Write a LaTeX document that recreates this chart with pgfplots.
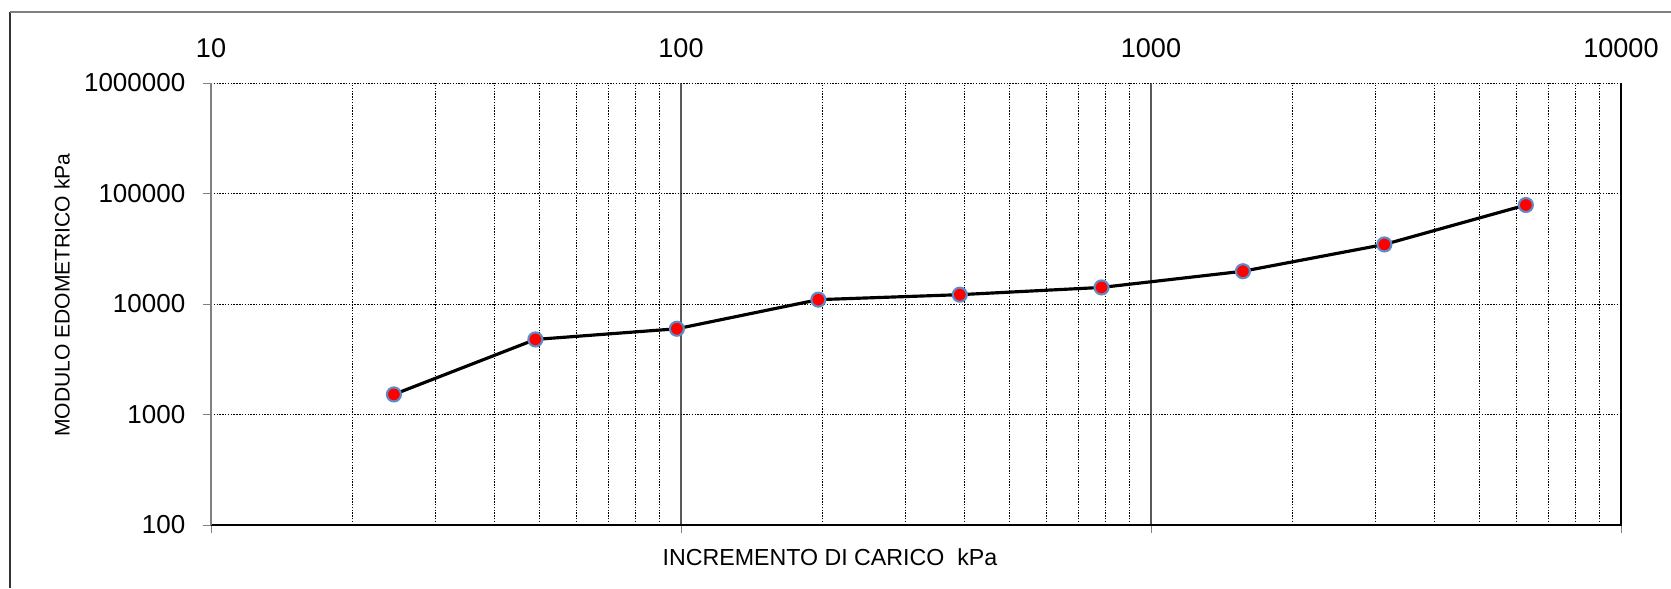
\documentclass[border=0pt]{standalone}
\usepackage{fontspec}
\setmainfont{Liberation Sans}
\usepackage{pgfplots}
\pgfplotsset{compat=1.18}
\definecolor{mkedge}{RGB}{95,140,200}
\begin{document}
\begin{tikzpicture}
\useasboundingbox (0mm,0mm) rectangle (167.1mm,58.8mm);
% outer chart frame
\draw[black!80, line width=0.15mm] (1.0mm,0mm) -- (1.0mm,57.6mm);
\draw[gray, line width=0.2mm] (1.0mm,57.6mm) -- (167.1mm,57.6mm);
\begin{axis}[
  at={(21.1mm,6.3mm)}, anchor=south west,
  width=141.0mm, height=44.2mm, scale only axis,
  xmode=log, ymode=log,
  xmin=10, xmax=10000, ymin=100, ymax=1000000,
  xtick={10,100,1000,10000}, xticklabels={10,100,1000,10000},
  ytick={100,1000,10000,100000,1000000},
  yticklabels={100,1000,10000,100000,1000000},
  xtick pos=bottom, xticklabel pos=top, ytick pos=left,
  tick align=outside, major tick length=0.8mm, minor tick length=0pt,
  /pgf/number format/assume math mode=true,
  xticklabel style={font=\fontsize{7.7}{8.5}\selectfont, anchor=south, inner sep=0pt, yshift=1.65mm},
  yticklabel style={font=\fontsize{7.4}{8.5}\selectfont, anchor=east, inner sep=0pt, xshift=-1.7mm},
  axis line style={draw=none},
  xmajorgrids, xminorgrids, ymajorgrids,
  major x grid style={gray!70!black, line width=0.35pt},
  minor x grid style={black, line width=0.25pt, dash pattern=on 0.4pt off 0.4pt},
  major y grid style={black, line width=0.25pt, dash pattern=on 0.4pt off 0.4pt},
  xlabel={INCREMENTO DI CARICO\ \ kPa},
  ylabel={MODULO EDOMETRICO kPa},
  xlabel style={at={(axis description cs:0.439,-0.0724)}, anchor=center, font=\fontsize{6.6}{7.5}\selectfont},
  ylabel style={at={(axis description cs:-0.1057,0.520)}, anchor=center, font=\fontsize{6}{7}\selectfont},
  clip=false,
]
\draw[black, line width=0.5pt] (rel axis cs:0,0) -- (rel axis cs:1,0) -- (rel axis cs:1,1);
\draw[gray, line width=0.5pt] (rel axis cs:0,0) -- (rel axis cs:0,1);
\addplot[black, line width=0.9pt, mark=*, mark size=2pt,
  mark options={fill=red, draw=mkedge, line width=0.6pt}] table {
x y
24.5 1520
49 4780
98 5970
196 10950
392 12150
785 14130
1569 19800
3138 34600
6276 78700
};
\end{axis}
\end{tikzpicture}
\end{document}
